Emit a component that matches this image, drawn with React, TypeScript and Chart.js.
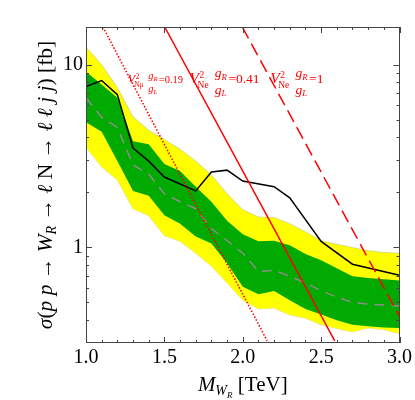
import React, { useEffect, useRef } from 'react';
import { Chart, registerables } from 'chart.js';
Chart.register(...registerables);

// ---- data (TeV, fb) ----
const massTeV = [1.0, 1.1, 1.2, 1.3, 1.4, 1.5, 1.6, 1.7, 1.8, 1.9, 2.0, 2.1, 2.2, 2.3, 2.4, 2.5, 2.6, 2.7, 2.8, 2.9, 3.0];
const yellowUpper = [12.5, 10.0, 7.5, 5.2, 4.38, 3.9, 3.45, 2.97, 2.49, 1.97, 1.61, 1.47, 1.46, 1.35, 1.22, 1.09, 1.04, 1.0, 0.96, 0.94, 0.93];
const greenUpper = [9.16, 7.8, 6.6, 3.82, 3.67, 2.86, 2.62, 2.15, 1.78, 1.40, 1.18, 1.08, 1.09, 1.03, 0.92, 0.85, 0.77, 0.695, 0.68, 0.67, 0.66];
const expectedMedian = [6.6, 5.15, 4.54, 2.83, 2.52, 1.97, 1.78, 1.63, 1.27, 1.09, 0.93, 0.74, 0.75, 0.695, 0.64, 0.58, 0.535, 0.50, 0.49, 0.485, 0.478];
const greenLower = [4.84, 4.3, 2.97, 2.04, 1.92, 1.5, 1.35, 1.15, 1.05, 0.82, 0.61, 0.555, 0.577, 0.515, 0.46, 0.43, 0.40, 0.377, 0.37, 0.365, 0.363];
const yellowLower = [3.54, 2.76, 2.34, 1.63, 1.49, 1.16, 1.08, 0.93, 0.79, 0.64, 0.515, 0.46, 0.466, 0.427, 0.41, 0.377, 0.36, 0.345, 0.363, 0.355, 0.337];

const observedMass = [1.0, 1.1, 1.2, 1.3, 1.4, 1.5, 1.7, 1.8, 1.9, 2.0, 2.2, 2.3, 2.5, 2.7, 3.0];
const observedLimit = [7.6, 8.2, 6.87, 3.5, 2.97, 2.43, 2.04, 2.59, 2.65, 2.31, 2.15, 1.87, 1.08, 0.81, 0.705];

const theory019Mass = [1.108, 2.156];
const theory019Xsec = [16.1, 0.308];
const theory041Mass = [1.502, 2.587];
const theory041Xsec = [16.1, 0.308];
const theory1Mass = [1.997, 3.0];
const theory1Xsec = [16.1, 0.42];

const xMajorTicks = [1.0, 1.5, 2.0, 2.5, 3.0];
const xMinorTicks = [1.1, 1.2, 1.3, 1.4, 1.6, 1.7, 1.8, 1.9, 2.1, 2.2, 2.3, 2.4, 2.6, 2.7, 2.8, 2.9];
const yMajorTicks = [1, 10];
const yMinorTicks = [0.4, 0.5, 0.6, 0.7, 0.8, 0.9, 2, 3, 4, 5, 6, 7, 8, 9];

const labelValues = ['0.19', '0.41', '1'];
const labelSubs = ['Nμ', 'Ne', 'Ne'];

const SERIF = "'Liberation Serif', 'Times New Roman', serif";
const RED = '#ff0000';

const pts = (xs: number[], ys: number[]) => xs.map((x, i) => ({ x, y: ys[i] }));

type Seg = { t: string; size: number; italic?: boolean; dy?: number };

function segWidth(ctx: CanvasRenderingContext2D, s: Seg) {
  ctx.font = `${s.italic ? 'italic ' : ''}${s.size}px ${SERIF}`;
  return ctx.measureText(s.t).width;
}

function drawSegs(ctx: CanvasRenderingContext2D, segs: Seg[], cx: number, y: number) {
  const total = segs.reduce((a, s) => a + segWidth(ctx, s), 0);
  let x = cx - total / 2;
  ctx.textAlign = 'left';
  ctx.textBaseline = 'alphabetic';
  for (const s of segs) {
    const w = segWidth(ctx, s);
    ctx.fillText(s.t, x, y + (s.dy || 0));
    x += w;
  }
}

function drawVLabel(ctx: CanvasRenderingContext2D, x: number, base: number, s: number, sub: string, val: string) {
  ctx.fillStyle = RED;
  ctx.textAlign = 'left';
  ctx.textBaseline = 'alphabetic';
  ctx.font = `italic ${s * 1.15}px ${SERIF}`;
  const wV = ctx.measureText('V').width;
  ctx.fillText('V', x, base);
  const ss = s * 0.7;
  ctx.font = `${ss}px ${SERIF}`;
  const w2 = ctx.measureText('2').width;
  ctx.fillText('2', x + wV + 0.5, base - s * 0.42);
  const wSub = ctx.measureText(sub).width;
  ctx.fillText(sub, x + wV - s * 0.1, base + s * 0.3);
  const xf = x + wV + Math.max(w2, wSub - s * 0.1) + s * 0.45;
  const gs = s * 1.0;
  ctx.font = `italic ${gs}px ${SERIF}`;
  const wg = ctx.measureText('g').width;
  ctx.fillText('g', xf, base - s * 0.46);
  ctx.fillText('g', xf, base + s * 0.78);
  ctx.font = `italic ${s * 0.65}px ${SERIF}`;
  const wR = ctx.measureText('R').width;
  const wL = ctx.measureText('L').width;
  ctx.fillText('R', xf + wg, base - s * 0.46 + s * 0.18);
  ctx.fillText('L', xf + wg, base + s * 0.78 + s * 0.18);
  const xe = xf + wg + Math.max(wR, wL) + s * 0.12;
  ctx.font = `${s}px ${SERIF}`;
  ctx.fillText('=' + val, xe, base);
}

const decorPlugin = {
  id: 'decor',
  afterDatasetsDraw(chart: any) {
    const { ctx, chartArea: a, scales } = chart;
    const xs = scales.x, ys = scales.y;
    ctx.save();
    ctx.strokeStyle = '#444';
    ctx.lineWidth = 1;
    ctx.beginPath();
    const tick = (len: number, vx: number | null, vy: number | null) => {
      if (vx !== null) {
        const px = Math.round(xs.getPixelForValue(vx)) + 0.5;
        ctx.moveTo(px, a.bottom); ctx.lineTo(px, a.bottom - len);
        ctx.moveTo(px, a.top); ctx.lineTo(px, a.top + len);
      }
      if (vy !== null) {
        const py = Math.round(ys.getPixelForValue(vy)) + 0.5;
        ctx.moveTo(a.left, py); ctx.lineTo(a.left + len, py);
        ctx.moveTo(a.right, py); ctx.lineTo(a.right - len, py);
      }
    };
    xMajorTicks.forEach(v => tick(6, v, null));
    xMinorTicks.forEach(v => tick(3, v, null));
    yMajorTicks.forEach(v => tick(6, null, v));
    yMinorTicks.forEach(v => tick(3, null, v));
    ctx.stroke();
    ctx.strokeRect(Math.round(a.left) + 0.5, Math.round(a.top) + 0.5, Math.round(a.right - a.left) - 1, Math.round(a.bottom - a.top) - 1);
    ctx.restore();
  },
  afterDraw(chart: any) {
    const { ctx, chartArea: a, scales } = chart;
    const xs = scales.x, ys = scales.y;
    ctx.save();
    // in-plot labels (anchored in data coordinates)
    const anchors = [
      { x: 1.267, y: 7.9, s: 10.5 },
      { x: 1.66, y: 7.9, s: 13.5 },
      { x: 2.175, y: 7.9, s: 13.5 },
    ];
    anchors.forEach((an, i) => {
      drawVLabel(ctx, xs.getPixelForValue(an.x), ys.getPixelForValue(an.y), an.s, labelSubs[i], labelValues[i]);
    });
    // x title
    ctx.fillStyle = '#000';
    drawSegs(ctx, [
      { t: 'M', size: 21, italic: true },
      { t: 'W', size: 14, italic: true, dy: 4 },
      { t: 'R', size: 9, italic: true, dy: 7 },
      { t: ' [TeV]', size: 21 },
    ], (a.left + a.right) / 2, 391);
    // y title
    ctx.translate(52, (a.top + a.bottom) / 2);
    ctx.rotate(-Math.PI / 2);
    const S = 21.5;
    drawSegs(ctx, [
      { t: 'σ', size: S, italic: true },
      { t: '(', size: S },
      { t: 'p', size: S, italic: true },
      { t: ' ', size: S },
      { t: 'p', size: S, italic: true },
      { t: ' → ', size: S },
      { t: 'W', size: S, italic: true },
      { t: 'R', size: 14, italic: true, dy: 4 },
      { t: ' → ', size: S },
      { t: 'ℓ', size: S, italic: true },
      { t: ' N', size: S },
      { t: ' → ', size: S },
      { t: 'ℓ', size: S, italic: true },
      { t: ' ', size: S },
      { t: 'ℓ', size: S, italic: true },
      { t: ' ', size: S },
      { t: 'j', size: S, italic: true },
      { t: ' ', size: S },
      { t: 'j', size: S, italic: true },
      { t: ') [fb]', size: S },
    ], 0, 0);
    ctx.restore();
  },
};

export default function App() {
  const ref = useRef<HTMLCanvasElement>(null);
  useEffect(() => {
    document.body.style.margin = '0';
    const line = (data: any, color: string, extra: any = {}) => ({
      data, borderColor: color, backgroundColor: color, pointRadius: 0, borderWidth: 1.5, tension: 0, ...extra,
    });
    const chart = new Chart(ref.current!, {
      type: 'line',
      data: {
        datasets: [
          line(pts(theory019Mass, theory019Xsec), RED, { borderDash: [1.5, 1.8], borderWidth: 1.6, order: 0 }),
          line(pts(theory041Mass, theory041Xsec), RED, { order: 0 }),
          line(pts(theory1Mass, theory1Xsec), RED, { borderDash: [13, 6], order: 0 }),
          line(pts(observedMass, observedLimit), '#000', { order: 1 }),
          line(pts(massTeV, expectedMedian), '#8c8c8c', { borderDash: [10, 7], order: 2 }),
          line(pts(massTeV, greenUpper), '#00aa00', { borderWidth: 0, fill: 6, backgroundColor: '#00aa00', order: 3 }),
          line(pts(massTeV, greenLower), '#00aa00', { borderWidth: 0, order: 3 }),
          line(pts(massTeV, yellowUpper), 'rgba(170,170,120,0.6)', { borderWidth: 0.7, fill: 8, backgroundColor: '#ffff00', order: 4 }),
          line(pts(massTeV, yellowLower), 'rgba(170,170,120,0.6)', { borderWidth: 0.7, order: 4 }),
        ],
      },
      options: {
        responsive: false,
        animation: false,
        events: [],
        layout: { padding: { top: 27, right: 14, left: 0, bottom: 0 } },
        plugins: { legend: { display: false }, tooltip: { enabled: false }, title: { display: false } },
        scales: {
          x: {
            type: 'linear', min: 1, max: 3,
            afterBuildTicks: (s: any) => { s.ticks = xMajorTicks.map(v => ({ value: v })); },
            afterFit: (s: any) => { s.height = 57; },
            ticks: { callback: (v: any) => Number(v).toFixed(1), font: { family: 'Liberation Serif', size: 20 }, color: '#000', padding: 3, maxRotation: 0 },
            grid: { display: false, drawTicks: false },
            border: { display: false },
          },
          y: {
            type: 'logarithmic', min: 0.308, max: 16.1,
            afterBuildTicks: (s: any) => { s.ticks = yMajorTicks.map(v => ({ value: v })); },
            afterFit: (s: any) => { s.width = 86; },
            ticks: { callback: (v: any) => String(v), font: { family: 'Liberation Serif', size: 20 }, color: '#000', padding: 3 },
            grid: { display: false, drawTicks: false },
            border: { display: false },
          },
        },
      } as any,
      plugins: [decorPlugin],
    });
    return () => chart.destroy();
  }, []);
  return (
    <div style={{ position: 'fixed', left: 0, top: 0, width: 415, height: 400, background: '#fff' }}>
      <canvas ref={ref} width={415} height={400} style={{ display: 'block' }} />
    </div>
  );
}
